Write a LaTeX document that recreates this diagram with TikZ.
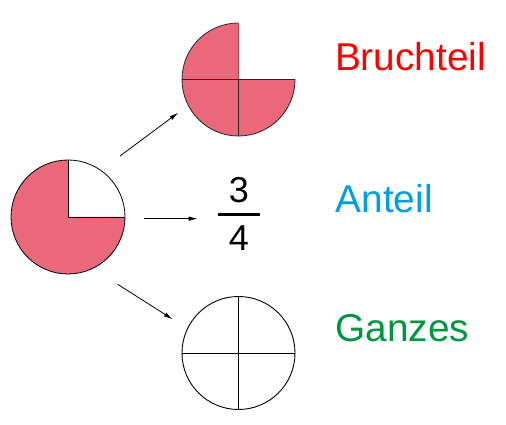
\documentclass[tikz,border=0pt]{standalone}
\usepackage{fontspec}
\setmainfont{Liberation Sans}
\usetikzlibrary{arrows.meta}
\definecolor{pinkfill}{RGB}{235,103,122}
\definecolor{redtxt}{RGB}{255,0,0}
\definecolor{bluetxt}{RGB}{0,158,226}
\definecolor{greentxt}{RGB}{0,150,64}
\tikzset{
  pie/.style={draw=black!85, line width=0.8pt},
  ring/.style={draw=black, line width=0.9pt},
  arr/.style={-{Latex[length=9pt,width=4.5pt]}, line width=0.8pt},
  label/.style={anchor=base west, inner sep=0pt, font=\fontsize{38.8}{40}\selectfont},
  digit/.style={anchor=base, inner sep=0pt, font=\fontsize{36}{38}\selectfont}
}
\begin{document}
\begin{tikzpicture}[x=1pt,y=1pt]
\useasboundingbox (0,0) rectangle (506,425);
% left circle
\coordinate (L) at (68,208);
\fill[pinkfill] (L) -- ++(0,57) arc[start angle=90,end angle=360,radius=57] -- cycle;
\draw[line width=0.8pt] (L) circle[radius=57];
\draw[line width=0.8pt] (L) -- ++(0,57) (L) -- ++(57,0);
% top circle
\coordinate (T) at (238.5,345.5);
\fill[pinkfill] (T) -- ++(0,56.5) arc[start angle=90,end angle=360,radius=56.5] -- cycle;
\draw[pie] (T) ++(0,56.5) arc[start angle=90,end angle=360,radius=56.5] -- (T);
\draw[line width=0.6pt, draw=pinkfill!70!black] (T) -- ++(0,56.5);
\draw[pie] (T) -- ++(-56.5,0) (T) -- ++(0,-56.5);
% bottom circle
\coordinate (B) at (238.5,72);
\draw[ring] (B) circle[radius=56.5];
\draw[ring] (B) ++(-56.5,0) -- ++(113,0);
\draw[ring] (B) ++(0,-56.5) -- ++(0,113);
% arrows
\coordinate (a1s) at (120,269);
\coordinate (a1e) at (178.3,312.3);
\coordinate (a2s) at (144,206.3);
\coordinate (a2e) at (197.7,206.3);
\coordinate (a3s) at (117.7,140.7);
\coordinate (a3e) at (172.7,105.7);
\draw[arr] (a1s) -- (a1e);
\draw[arr] (a2s) -- (a2e);
\draw[arr] (a3s) -- (a3e);
% fraction
\node[digit] (num) at (239,222) {3};
\node[digit] (den) at (239,174) {4};
\coordinate (barl) at (218,210);
\coordinate (barr) at (260,210);
\draw[line width=3pt] (barl) -- (barr);
% labels
\node[label, text=redtxt] (bruch) at (334.8,354) {Bruchteil};
\node[label, text=bluetxt] (anteil) at (335.5,212.3) {Anteil};
\node[label, text=greentxt] (ganzes) at (335.4,83) {Ganzes};
\end{tikzpicture}
\end{document}
